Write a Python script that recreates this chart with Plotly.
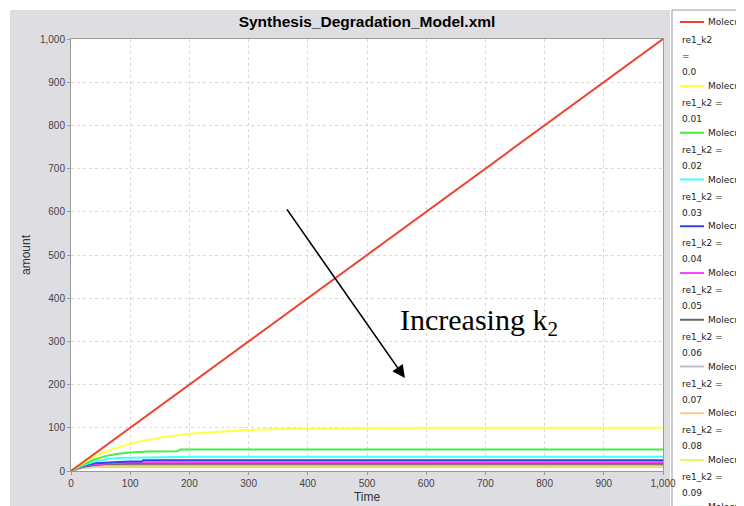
import plotly.graph_objects as go

# ---------------- data ----------------
k2_labels = ["0.0", "0.01", "0.02", "0.03", "0.04", "0.05", "0.06", "0.07", "0.08", "0.09", "0.1"]
colors = ["#EE4433", "#FFFF44", "#44EE44", "#44FFFF", "#3344DD", "#FF44FF",
          "#666666", "#C0C0C0", "#FFC880", "#DDFF66", "#88E8C8"]

t_k0 = [0, 100, 200, 300, 400, 500, 600, 700, 800, 900, 1000]
v_k0 = [0, 100, 200, 300, 400, 500, 600, 700, 800, 900, 1000]

t_k1 = [0, 25, 50, 75, 100, 125, 150, 175, 200, 250, 300, 350, 400, 450, 500, 600, 700, 800, 900, 1000]
v_k1 = [0, 22, 40, 53, 63, 71, 77, 82, 86, 91, 95, 97, 98, 99, 99, 100, 100, 100, 100, 100]

t_k2 = [0, 20, 40, 60, 80, 100, 130, 160, 180, 185, 1000]
v_k2 = [0, 15, 27, 35, 40, 43, 45, 46, 46, 50, 50]

t_k3 = [0, 20, 40, 60, 80, 100, 150, 200, 1000]
v_k3 = [0, 13, 22, 27, 30, 31, 32, 33, 33]

t_k4 = [0, 20, 40, 60, 80, 100, 120, 122, 1000]
v_k4 = [0, 12, 18, 20, 21, 22, 22, 25, 25]

t_k5 = [0, 20, 40, 60, 80, 100, 1000]
v_k5 = [0, 11, 16, 18, 19, 20, 20]

t_k6 = [0, 20, 40, 60, 100, 1000]
v_k6 = [0, 10, 14, 16, 17, 17]

t_k7 = [0, 20, 40, 60, 1000]
v_k7 = [0, 9, 12, 14, 14]

t_k8 = [0, 20, 40, 60, 1000]
v_k8 = [0, 8, 11, 12, 12]

t_k9 = [0, 20, 40, 60, 1000]
v_k9 = [0, 8, 10, 11, 11]

t_k10 = [0, 20, 40, 1000]
v_k10 = [0, 7, 9, 10]

times = [t_k0, t_k1, t_k2, t_k3, t_k4, t_k5, t_k6, t_k7, t_k8, t_k9, t_k10]
values = [v_k0, v_k1, v_k2, v_k3, v_k4, v_k5, v_k6, v_k7, v_k8, v_k9, v_k10]

tick_vals = [0, 100, 200, 300, 400, 500, 600, 700, 800, 900, 1000]

# ---------------- layout helpers ----------------
OFF = 8                      # default page margin of the html body
W, H = 744 - OFF, 506 - OFF  # figure size so the page fills the window
L, R, T, B = 71, 663, 39, 471  # plot area in window pixels


def px(x):
    return (x - L) / (R - L)


def py(y):
    return (B - y) / (B - T)


fig = go.Figure()

for i in reversed(range(len(times))):
    fig.add_trace(go.Scatter(
        x=times[i], y=values[i], mode="lines",
        line=dict(color=colors[i], width=2),
        name="Molecule re1_k2 = " + k2_labels[i],
        showlegend=False,
    ))

shapes = [
    # grey chart panel
    dict(type="rect", xref="paper", yref="paper", x0=px(10), x1=px(670), y0=py(520), y1=py(10),
         fillcolor="#DEDEE2", line=dict(width=0), layer="below"),
    # white plot area
    dict(type="rect", xref="paper", yref="paper", x0=0, x1=1, y0=0, y1=1,
         fillcolor="white", line=dict(width=0), layer="below"),
    # legend box
    dict(type="rect", xref="paper", yref="paper", x0=px(672), x1=px(760), y0=py(520), y1=py(10),
         fillcolor="white", line=dict(color="#999999", width=1), layer="below"),
]

annotations = []
leg_font = dict(family="DejaVu Sans, Verdana", size=9, color="#222222")
for i, lab in enumerate(k2_labels):
    if i == 0:
        ly = 22
        sub = ["re1_k2", "=", lab]
        offs = [18, 34, 50]
    else:
        ly = 86 + (i - 1) * 46.75
        sub = ["re1_k2 =", lab]
        offs = [17, 33]
    shapes.append(dict(type="line", xref="paper", yref="paper", x0=px(680), x1=px(704),
                       y0=py(ly), y1=py(ly), line=dict(color=colors[i], width=2)))
    annotations.append(dict(xref="paper", yref="paper", x=px(706), y=py(ly), text="Molecule",
                            showarrow=False, xanchor="left", yanchor="middle", font=leg_font))
    for s, o in zip(sub, offs):
        if ly + o < 506:
            annotations.append(dict(xref="paper", yref="paper", x=px(680), y=py(ly + o), text=s,
                                    showarrow=False, xanchor="left", yanchor="middle", font=leg_font))

# arrow and label
annotations.append(dict(x=564, y=215, ax=363, ay=609, xref="x", yref="y", axref="x", ayref="y",
                        text="", showarrow=True, arrowhead=2, arrowsize=1.6, arrowwidth=1.6,
                        arrowcolor="black"))
annotations.append(dict(x=553, y=345, xref="x", yref="y", text="Increasing k<sub>2</sub>",
                        showarrow=False, xanchor="left", yanchor="middle",
                        font=dict(family="Liberation Serif, Times New Roman", size=30, color="black")))

axis_common = dict(
    showgrid=True, gridcolor="#D8D8D8", griddash="dot", gridwidth=1,
    showline=True, linecolor="#9A9A9A", linewidth=1, mirror=True,
    ticks="outside", ticklen=3, tickcolor="#9A9A9A",
    tickfont=dict(family="Liberation Sans, Arial", size=10, color="#444444"),
    tickvals=tick_vals, tickformat=",d", zeroline=False,
    range=[0, 1000],
)

fig.update_layout(
    width=W, height=H,
    margin=dict(l=L - OFF, r=W - (R - OFF), t=T - OFF, b=H - (B - OFF), autoexpand=False),
    paper_bgcolor="white", plot_bgcolor="white",
    title=dict(text="<b>Synthesis_Degradation_Model.xml</b>", x=0.5, xref="paper", xanchor="center",
               y=(H - (22 - OFF)) / H, yref="container", yanchor="middle",
               font=dict(family="Liberation Sans, Arial", size=15.5, color="black")),
    xaxis=dict(axis_common, title=dict(text="Time", standoff=4,
                                       font=dict(family="Liberation Sans, Arial", size=12, color="#333333"))),
    yaxis=dict(axis_common, title=dict(text="amount", standoff=6,
                                       font=dict(family="Liberation Sans, Arial", size=12, color="#333333"))),
    shapes=shapes,
    annotations=annotations,
    showlegend=False,
)

fig.write_html("out.html")
